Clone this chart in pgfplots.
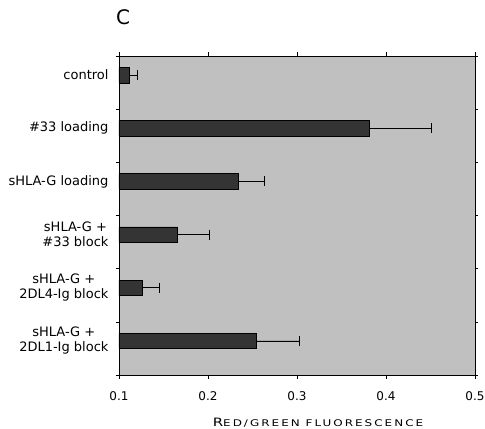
\documentclass[border=0pt]{standalone}
\usepackage{pgfplots}
\pgfplotsset{compat=1.18}
\usepackage{fontspec}
\setmainfont{DejaVu Sans}
\newfontfamily\capfont[FakeStretch=1.3, LetterSpace=22]{DejaVu Sans}
\definecolor{plotbg}{RGB}{192,192,192}
\definecolor{bardark}{RGB}{52,52,52}
\begin{document}
\begin{tikzpicture}
\begin{axis}[
    name=ax,
    scale only axis,
    width=356pt, height=319pt,
    xbar, bar width=15.5pt,
    xmin=0.1, xmax=0.5,
    ymin=0.36, ymax=6.36,
    xtick={0.1,0.2,0.3,0.4,0.5},
    xticklabels={0.1,0.2,0.3,0.4,0.5},
    ytick={1,2,3,4,5,6},
    yticklabels={{sHLA-G +\\2DL1-Ig block},{sHLA-G +\\2DL4-Ig block},{sHLA-G +\\\#33 block},{sHLA-G loading},{\#33 loading},{control}},
    minor ytick={0.36,1.36,2.36,3.36,4.36,5.36,6.36},
    major y tick style={draw=none},
    tick align=outside,
    major tick length=4pt,
    minor tick length=3pt,
    tick style={black, line width=0.6pt},
    axis line style={black, line width=0.8pt},
    axis background/.style={fill=plotbg},
    yticklabel style={font=\fontsize{13}{15}\selectfont, align=center, xshift=-3pt},
    xticklabel style={font=\fontsize{12}{14}\selectfont, yshift=-9pt},
    /pgf/number format/assume math mode=true,
    xlabel={{\capfont\fontsize{11.5}{12}\selectfont R}{\capfont\fontsize{9.2}{12}\selectfont ED/GREEN FLUORESCENCE}},
    xlabel style={at={(axis description cs:0.5,0)}, anchor=center, xshift=21pt, yshift=-48pt},
]
\addplot[fill=bardark, draw=black, line width=0.7pt,
    error bars/.cd, x dir=plus, x explicit, error mark=|,
    error bar style={black, line width=0.7pt},
    error mark options={black, mark size=5pt, line width=0.7pt}]
    coordinates {
    (0.1116,6) +- (0.0094,0)
    (0.381,5)  +- (0.070,0)
    (0.2337,4) +- (0.030,0)
    (0.166,3)  +- (0.035,0)
    (0.1258,2) +- (0.019,0)
    (0.254,1)  +- (0.049,0)
    };
\end{axis}
\node[font=\fontsize{20}{20}\selectfont] at ([shift={(4pt,39pt)}]ax.north west) {C};
\pgfresetboundingbox
\path ([shift={(-119pt,-54pt)}]ax.south west) rectangle ([shift={(10pt,56pt)}]ax.north east);
\end{tikzpicture}
\end{document}
